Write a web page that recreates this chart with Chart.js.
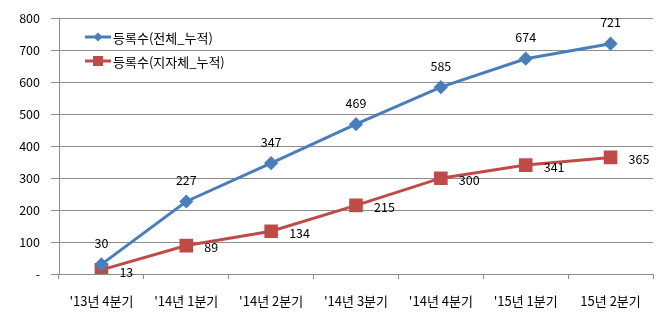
<!DOCTYPE html>
<html>
<head>
<meta charset="utf-8">
<script src="https://cdn.jsdelivr.net/npm/chart.js@4/dist/chart.umd.min.js"></script>
<style>
html,body{margin:0;padding:0;background:#fff;}
#wrap{width:670px;height:331px;position:relative;}
</style>
</head>
<body>
<div id="wrap"><canvas id="c" width="670" height="331"></canvas></div>
<script>
const categories = ["'13년 4분기", "'14년 1분기", "'14년 2분기", "'14년 3분기", "'14년 4분기", "'15년 1분기", "15년 2분기"];
const totalSeries = [30, 227, 347, 469, 585, 674, 721];
const localSeries = [13, 89, 134, 215, 300, 341, 365];
const seriesNames = ["등록수(전체_누적)", "등록수(지자체_누적)"];
const yTicks = [0, 100, 200, 300, 400, 500, 600, 700, 800];

const FONT = "'Noto Sans CJK KR', 'Noto Sans', sans-serif";
const BLUE = '#4a7ebb';
const RED = '#be4b48';

const labelPlugin = {
  id: 'valueLabels',
  afterDatasetsDraw(chart) {
    const ctx = chart.ctx;
    ctx.save();
    ctx.font = '12.5px ' + FONT;
    ctx.fillStyle = '#000';
    chart.data.datasets.forEach((ds, i) => {
      const meta = chart.getDatasetMeta(i);
      meta.data.forEach((pt, j) => {
        const v = ds.data[j];
        if (i === 0) {
          ctx.textAlign = 'center';
          ctx.textBaseline = 'middle';
          ctx.fillText(String(v), pt.x, pt.y - 21);
        } else {
          ctx.textAlign = 'left';
          ctx.textBaseline = 'middle';
          ctx.fillText(String(v), pt.x + 18, pt.y + 2);
        }
      });
    });
    ctx.restore();
  }
};

const legendPlugin = {
  id: 'insideLegend',
  afterDraw(chart) {
    const ctx = chart.ctx;
    ctx.save();
    const items = [
      {name: seriesNames[0], color: BLUE, shape: 'diamond', y: 37},
      {name: seriesNames[1], color: RED, shape: 'square', y: 61}
    ];
    items.forEach(it => {
      ctx.strokeStyle = it.color;
      ctx.lineWidth = 3;
      ctx.beginPath();
      ctx.moveTo(85, it.y);
      ctx.lineTo(111, it.y);
      ctx.stroke();
      ctx.fillStyle = it.color;
      if (it.shape === 'diamond') {
        ctx.beginPath();
        ctx.moveTo(98, it.y - 4.5);
        ctx.lineTo(102.5, it.y);
        ctx.lineTo(98, it.y + 4.5);
        ctx.lineTo(93.5, it.y);
        ctx.closePath();
        ctx.fill();
      } else {
        ctx.fillRect(93, it.y - 5, 10, 10);
      }
      ctx.fillStyle = '#000';
      ctx.font = '13px ' + FONT;
      ctx.textAlign = 'left';
      ctx.textBaseline = 'middle';
      ctx.fillText(it.name, 113, it.y + 1);
    });
    ctx.restore();
  }
};

new Chart(document.getElementById('c'), {
  type: 'line',
  data: {
    labels: categories,
    datasets: [
      {
        label: seriesNames[0],
        data: totalSeries,
        borderColor: BLUE,
        backgroundColor: BLUE,
        borderWidth: 3,
        pointStyle: 'rectRot',
        pointRadius: 5,
        pointHoverRadius: 5,
        tension: 0
      },
      {
        label: seriesNames[1],
        data: localSeries,
        borderColor: RED,
        backgroundColor: RED,
        borderWidth: 3,
        pointStyle: 'rect',
        pointRadius: 7.5,
        pointHoverRadius: 7.5,
        tension: 0
      }
    ]
  },
  options: {
    responsive: false,
    animation: false,
    events: [],
    layout: {padding: {left: 0, right: 17, top: 18, bottom: 0}},
    plugins: {legend: {display: false}, tooltip: {enabled: false}},
    scales: {
      x: {
        offset: true,
        grid: {
          offset: true,
          drawOnChartArea: false,
          drawTicks: true,
          tickLength: 5,
          color: '#8c8c8c',
          tickColor: '#8c8c8c'
        },
        border: {color: '#8c8c8c', width: 1},
        ticks: {
          color: '#000',
          font: {family: FONT, size: 13},
          padding: 14,
          maxRotation: 0,
          autoSkip: false
        },
        afterFit(scale) { scale.height = 57; }
      },
      y: {
        min: 0,
        max: 800,
        afterBuildTicks(scale) { scale.ticks = yTicks.map(v => ({value: v})); },
        grid: {
          color: '#8c8c8c',
          tickColor: '#8c8c8c',
          tickLength: 8,
          drawTicks: true
        },
        border: {color: '#8c8c8c', width: 1},
        ticks: {
          color: '#000',
          font: {family: FONT, size: 12.5},
          padding: 11,
          callback: v => v === 0 ? '-' : String(v)
        },
        afterFit(scale) { scale.width = 59; }
      }
    }
  },
  plugins: [labelPlugin, legendPlugin]
});
</script>
</body>
</html>
